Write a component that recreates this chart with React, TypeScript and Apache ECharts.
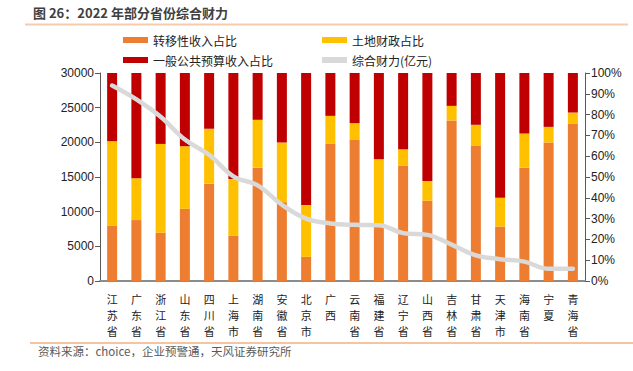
import React, { useEffect, useRef } from "react";
import * as echarts from "echarts";

const provinces = ["江苏省","广东省","浙江省","山东省","四川省","上海市","湖南省","安徽省","北京市","广西","云南省","福建省","辽宁省","山西省","吉林省","甘肃省","天津市","海南省","宁夏","青海省"];
// shares (%)
const transferShare = [26.5,29.3,23.2,34.7,46.8,21.7,54.5,37.9,11.6,66.1,68.0,26.5,55.5,38.6,77.2,65.1,26.2,54.5,66.6,75.7];
const landShare = [40.7,20.1,42.7,30.1,26.4,27.3,23.0,28.7,24.9,13.3,7.9,32.0,7.8,9.5,7.0,10.0,13.8,16.4,7.5,5.3];
const budgetShare = transferShare.map((t, i) => +(100 - t - landShare[i]).toFixed(1));
// 综合财力(亿元)
const totalFinance = [28200,26200,23700,20400,18200,15100,13800,11000,9000,8300,8100,8050,6900,6650,5250,3700,3150,2800,1750,1750];

const leftTicks = { min: 0, max: 30000, interval: 5000 };
const rightTicks = { min: 0, max: 100, interval: 10 };

const CJK = '"Noto Sans CJK SC", sans-serif';
const LAT = '"Liberation Sans", Arial, sans-serif';

export default function App() {
  const ref = useRef<HTMLDivElement>(null);
  useEffect(() => {
    const chart = echarts.init(ref.current!, null, { renderer: "svg" });
    const legendBase = {
      itemWidth: 25,
      itemHeight: 6,
      itemGap: 6,
      icon: "rect",
      textStyle: { fontFamily: CJK, fontSize: 12, color: "#222" },
    };
    chart.setOption({
      animation: false,
      backgroundColor: "#fff",
      graphic: [
        { type: "text", left: 33, top: 6, style: { text: "图 26：2022 年部分省份综合财力", font: `bold 13px ${CJK}`, fill: "#404040" } },
        { type: "line", shape: { x1: 25, y1: 24.5, x2: 628, y2: 24.5 }, style: { stroke: "#F8CBAD", lineWidth: 2 } },
        { type: "line", shape: { x1: 30, y1: 343, x2: 633, y2: 343 }, style: { stroke: "#F4B183", lineWidth: 1.5 } },
        { type: "text", left: 38, top: 345, style: { text: "资料来源：choice，企业预警通，天风证券研究所", font: `11.5px ${CJK}`, fill: "#595959" } },
      ],
      legend: [
        { ...legendBase, left: 118, top: 29, data: ["转移性收入占比"] },
        { ...legendBase, left: 317, top: 29, data: ["土地财政占比"] },
        { ...legendBase, left: 118, top: 49, data: ["一般公共预算收入占比"] },
        { ...legendBase, left: 317, top: 49, data: ["综合财力(亿元)"] },
      ],
      grid: { left: 100, right: 48, top: 73, bottom: 90 },
      xAxis: {
        type: "category",
        data: provinces,
        axisLine: { lineStyle: { color: "#8c8c8c", width: 2 } },
        axisTick: { show: false },
        axisLabel: {
          interval: 0,
          fontFamily: CJK,
          fontSize: 11,
          color: "#222",
          lineHeight: 16,
          margin: 10,
          formatter: (v: string) => v.split("").join("\n"),
        },
      },
      yAxis: [
        {
          type: "value",
          ...leftTicks,
          position: "left",
          splitLine: { show: false },
          axisLine: { show: true, lineStyle: { color: "#595959" } },
          axisTick: { show: true, length: 5, lineStyle: { color: "#595959" } },
          axisLabel: { fontFamily: LAT, fontSize: 12, color: "#222", margin: 6, formatter: (v: number) => String(v) },
        },
        {
          type: "value",
          ...rightTicks,
          position: "right",
          splitLine: { show: false },
          axisLine: { show: true, lineStyle: { color: "#595959" } },
          axisTick: { show: true, length: 5, lineStyle: { color: "#595959" } },
          axisLabel: { fontFamily: LAT, fontSize: 12, color: "#222", margin: 6, formatter: (v: number) => v + "%" },
        },
      ],
      series: [
        { name: "转移性收入占比", type: "bar", stack: "s", yAxisIndex: 1, barWidth: 10, data: transferShare, itemStyle: { color: "#ED7D31" } },
        { name: "土地财政占比", type: "bar", stack: "s", yAxisIndex: 1, barWidth: 10, data: landShare, itemStyle: { color: "#FFC000" } },
        { name: "一般公共预算收入占比", type: "bar", stack: "s", yAxisIndex: 1, barWidth: 10, data: budgetShare, itemStyle: { color: "#C00000" } },
        {
          name: "综合财力(亿元)", type: "line", yAxisIndex: 0, data: totalFinance, smooth: 0.4, symbol: "none", z: 5,
          lineStyle: { color: "#D9D9D9", width: 4.5, cap: "round" },
          itemStyle: { color: "#D9D9D9" },
        },
      ],
    });
    return () => chart.dispose();
  }, []);
  return <div ref={ref} style={{ width: 633, height: 371, position: "absolute", left: 0, top: 0 }} />;
}
